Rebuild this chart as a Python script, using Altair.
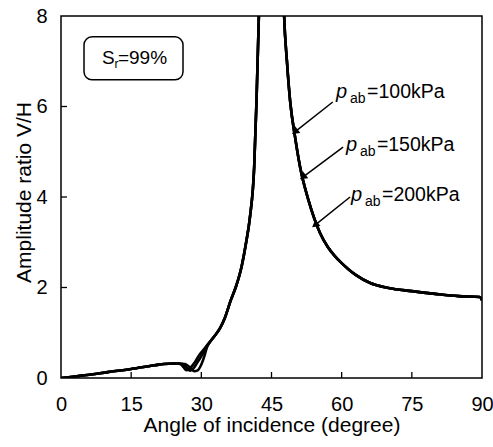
import altair as alt
import pandas as pd

# ---------------- data ----------------
low_x = [0, 5, 10, 15, 20, 22, 24, 25]
low_y = [0.0, 0.06, 0.13, 0.20, 0.28, 0.31, 0.32, 0.32]

dip_x_100 = [25.5, 26.2, 26.8, 27.4, 28.5, 29.5, 30.5, 31.2]
dip_y_100 = [0.31, 0.24, 0.17, 0.20, 0.33, 0.50, 0.63, 0.72]
dip_x_150 = [26.0, 26.8, 27.6, 28.2, 29.2, 30.2, 31.2]
dip_y_150 = [0.31, 0.24, 0.16, 0.20, 0.35, 0.52, 0.70]
dip_x_200 = [26.5, 27.5, 28.5, 29.2, 30.0, 30.7, 31.2]
dip_y_200 = [0.31, 0.24, 0.15, 0.17, 0.30, 0.50, 0.68]

high_x = [32, 33, 34, 35, 36.3, 37.5, 38.6, 39.5, 40.4, 41.3, 41.8, 42.3, 43, 44, 45,
          46, 47, 47.7, 48.3, 49.0, 50.0, 51.1, 52.9, 55.4, 57, 58.5, 60, 61.5, 63, 66.1, 70,
          75, 80, 85, 89.5, 90]
high_y = [0.82, 0.95, 1.10, 1.32, 1.72, 2.05, 2.46, 2.95, 3.56, 4.67, 6.14, 8.0, 11, 17, 22,
          17, 11, 8.0, 7.0, 6.1, 5.35, 4.67, 3.93, 3.2, 2.90, 2.70, 2.54, 2.40, 2.28, 2.10, 1.99,
          1.92, 1.86, 1.81, 1.79, 1.72]

series_names = ["100kPa", "150kPa", "200kPa"]

label_x = [58.8, 60.9, 62.0]
label_y = [6.19, 5.02, 3.91]
label_text = ["=100kPa", "=150kPa", "=200kPa"]

arrow_x1 = [58.1, 60.3, 61.8]
arrow_y1 = [6.10, 5.10, 4.00]
arrow_x2 = [50.0, 51.7, 54.3]
arrow_y2 = [5.44, 4.44, 3.38]

box_x = [4.92, 26.08]
box_y = [6.59, 7.54]
box_text_x = [8.75]
box_text_y = [6.94]

x_ticks = [0, 15, 30, 45, 60, 75, 90]
y_ticks = [0, 2, 4, 6, 8]
x_inner_ticks = [15, 30, 45, 60, 75]
y_inner_ticks = [2, 4, 6]

# ---------------- tables ----------------
rows = []
dips = [(dip_x_100, dip_y_100), (dip_x_150, dip_y_150), (dip_x_200, dip_y_200)]
for name, (dx_, dy_) in zip(series_names, dips):
    for a, v in zip(low_x + dx_ + high_x, low_y + dy_ + high_y):
        rows.append({"angle": a, "ratio": v, "series": name})
curves = pd.DataFrame(rows)

labels = pd.DataFrame({"x": label_x, "y": label_y, "t": label_text})
arrows = pd.DataFrame({"x1": arrow_x1, "y1": arrow_y1, "x2": arrow_x2, "y2": arrow_y2})
box = pd.DataFrame({"x1": [box_x[0]], "x2": [box_x[1]], "y1": [box_y[0]], "y2": [box_y[1]]})
boxtext = pd.DataFrame({"x": box_text_x, "y": box_text_y})
xt = pd.DataFrame({"t": x_inner_ticks})
yt = pd.DataFrame({"t": y_inner_ticks})

FONT = "Liberation Sans"
xs = alt.Scale(domain=[0, 90], nice=False, zero=False)
ys = alt.Scale(domain=[0, 8], nice=False, zero=False)

x_axis = alt.Axis(values=x_ticks, title="Angle of incidence (degree)", grid=False, domain=False,
                  tickSize=0, labelPadding=16, labelFontSize=20, labelFont=FONT,
                  labelColor="black", titleFontSize=21, titleFont=FONT, titleFontWeight="normal",
                  titleColor="black", titleBaseline="alphabetic", titleY=53, labelFlush=False)
y_axis = alt.Axis(values=y_ticks, title="Amplitude ratio V/H", grid=False, domain=False,
                  tickSize=0, labelPadding=14, labelFontSize=20, labelFont=FONT,
                  labelColor="black", titleFontSize=21, titleFont=FONT, titleFontWeight="normal",
                  titleColor="black", titleBaseline="alphabetic", titleX=-31, titleY=176,
                  titleAlign="center", titleAngle=-90, labelFlush=False)

X = lambda f: alt.X(f, scale=xs, title="Angle of incidence (degree)")
Y = lambda f: alt.Y(f, scale=ys, title="Amplitude ratio V/H")

lines = alt.Chart(curves).mark_line(color="black", strokeWidth=2.6, clip=True,
                                    interpolate="monotone").encode(
    x=alt.X("angle:Q", scale=xs, axis=x_axis),
    y=alt.Y("ratio:Q", scale=ys, axis=y_axis),
    detail="series:N",
)

xtick_layer = alt.Chart(xt).mark_rule(color="black", strokeWidth=1.3).encode(
    x=X("t:Q"), y=alt.value(362), y2=alt.value(356))
ytick_layer = alt.Chart(yt).mark_rule(color="black", strokeWidth=1.3).encode(
    y=Y("t:Q"), x=alt.value(0), x2=alt.value(6))

arrow_lines = alt.Chart(arrows).mark_rule(color="black", strokeWidth=1.5).encode(
    x=X("x1:Q"), y=Y("y1:Q"), x2="x2:Q", y2="y2:Q")
arrow_heads = alt.Chart(arrows).mark_point(shape="triangle-up", filled=True, color="black",
                                           opacity=1, size=70).encode(
    x=X("x2:Q"), y=Y("y2:Q"), angle=alt.value(232))

p_text = alt.Chart(labels).mark_text(text="p", font=FONT, fontSize=20, fontStyle="italic",
                                     align="left", baseline="alphabetic", color="black").encode(
    x=X("x:Q"), y=Y("y:Q"))
ab_text = alt.Chart(labels).mark_text(text="ab", font=FONT, fontSize=14, dx=14, dy=5,
                                      align="left", baseline="alphabetic", color="black").encode(
    x=X("x:Q"), y=Y("y:Q"))
val_text = alt.Chart(labels).mark_text(font=FONT, fontSize=19.5, dx=31,
                                       align="left", baseline="alphabetic", color="black").encode(
    x=X("x:Q"), y=Y("y:Q"), text="t:N")

box_layer = alt.Chart(box).mark_rect(fill="white", stroke="black", strokeWidth=1.5,
                                     cornerRadius=8).encode(
    x=X("x1:Q"), x2="x2:Q", y=Y("y1:Q"), y2="y2:Q")
s_text = alt.Chart(boxtext).mark_text(text="S", font=FONT, fontSize=19, align="left",
                                      baseline="alphabetic", color="black").encode(
    x=X("x:Q"), y=Y("y:Q"))
r_text = alt.Chart(boxtext).mark_text(text="r", font=FONT, fontSize=12, dx=12.5, dy=4,
                                      align="left", baseline="alphabetic", color="black").encode(
    x=X("x:Q"), y=Y("y:Q"))
pct_text = alt.Chart(boxtext).mark_text(text="=99%", font=FONT, fontSize=19, dx=16,
                                        align="left", baseline="alphabetic", color="black").encode(
    x=X("x:Q"), y=Y("y:Q"))

chart = alt.layer(
    lines, xtick_layer, ytick_layer, arrow_lines, arrow_heads,
    p_text, ab_text, val_text, box_layer, s_text, r_text, pct_text
).properties(
    width=421, height=362,
    autosize=alt.AutoSizeParams(type="none"),
    padding={"left": 61, "top": 16, "right": 11, "bottom": 69},
    background="white",
).configure_view(stroke="black", strokeWidth=1.5)

chart.save("out.html", embed_options={"renderer": "svg", "actions": False})
